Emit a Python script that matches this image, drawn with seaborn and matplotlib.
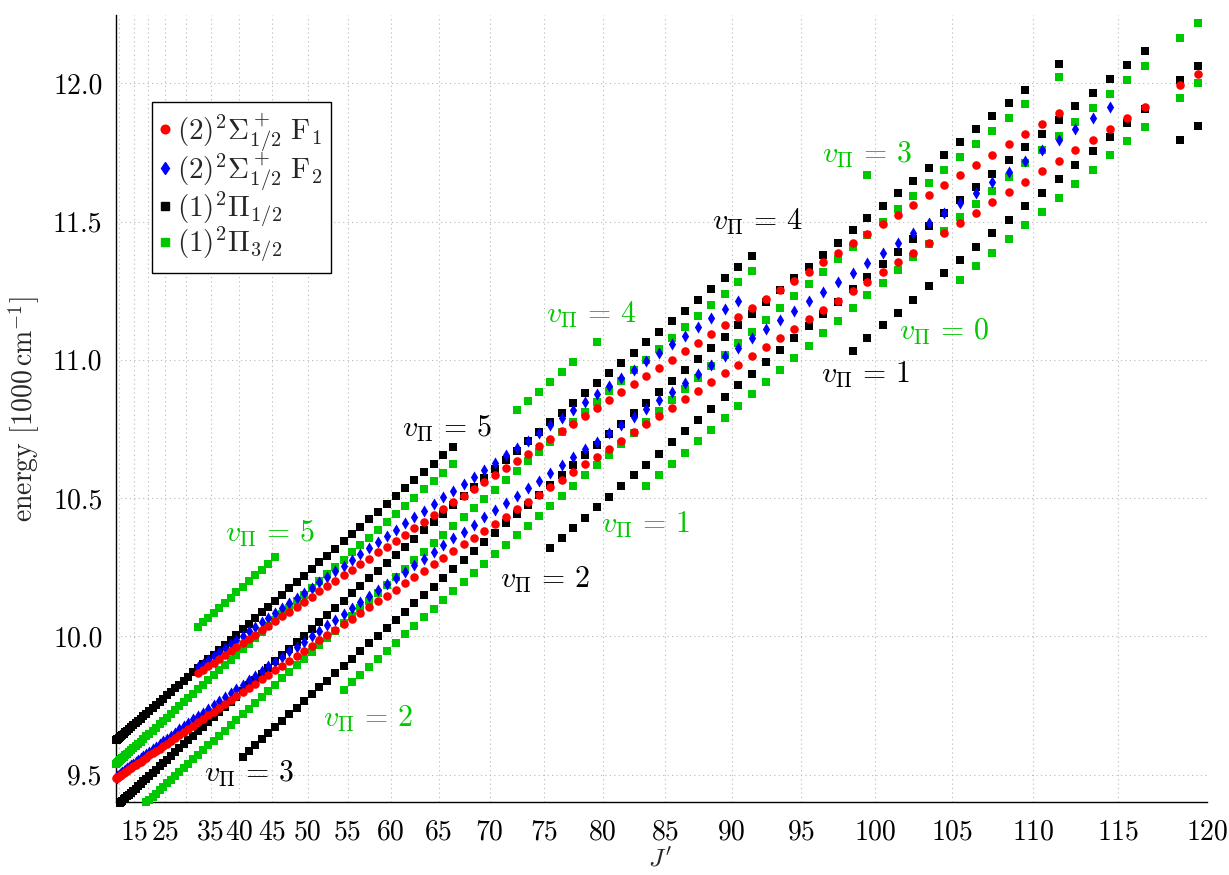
import numpy as np
import matplotlib
matplotlib.use("Agg")
import matplotlib.pyplot as plt
from matplotlib.lines import Line2D
import seaborn as sns
import pandas as pd

sns.set_theme(style="white")
plt.rcParams.update({
    "font.family": "serif",
    "font.serif": ["cmr10"],
    "mathtext.fontset": "cm",
    "axes.formatter.use_mathtext": True,
    "axes.unicode_minus": False,
})

# ---------------- data (energies in cm^-1) ----------------
# each band: first J' value, then term energies for J', J'+1, ... (None = level not shown)
pi12_v5_J0 = 0.5
pi12_v5_E = [9624, 9625, 9626, 9628, 9630, 9633, 9636, 9639, 9643, 9648, 9653, 9659, 9665, 9671, 9678, 9685,
             9693, 9702, 9711, 9720, 9730, 9740, 9751, 9762, 9774, 9786, 9799, 9812, 9825, 9839, 9854, 9869,
             9885, 9901, 9917, 9934, 9951, 9969, 9987, 10006, 10025, 10045, 10065, 10086, 10107, 10129, 10151,
             10173, 10196, 10219, 10243, 10268, 10292, 10317, 10343, 10369, 10396, 10423, 10450, 10478, 10507,
             10535, 10565, 10594, 10624, 10655, 10686]
pi12_v4_J0 = 6.5
pi12_v4_E = [9397, 9401, 9405, 9410, 9415, 9421, 9427, 9434, 9441, 9449, 9457, 9466, 9475, 9485, 9495, 9506,
             9517, 9529, 9541, 9554, 9567, 9581, 9595, 9610, 9625, 9640, 9656, 9673, 9690, 9708, 9726, 9744,
             9763, 9782, 9802, 9823, 9843, 9865, 9886, 9909, 9931, 9954, 9978, 10002, 10026, 10051, 10076,
             10102, 10128, 10155, 10182, 10209, 10237, 10266, 10294, 10323, 10353, 10383, 10413, 10444, 10475,
             10507, 10539, 10571, 10604, 10637, 10671, 10705, 10739, 10774, 10809, 10844, 10880, 10916, 10952,
             10989, 11026, 11064, 11102, 11140, 11178, 11217, 11256, 11296, 11336, 11376]
pi12_v3_J0 = 40.5
pi12_v3_E = [9565, 9586, 9607, 9628, 9650, 9672, 9694, 9718, 9741, 9765, 9790, 9815, 9840, 9866, 9892, 9919,
             9946, 9974, 10002, 10031, 10060, 10089, 10119, 10149, 10180, 10211, 10243, 10275, 10308, 10340,
             10374, 10408, 10442, 10476, 10511, 10547, 10582, 10619, 10655, 10692, 10730, 10767, 10806, 10844,
             10883, 10923, 10962, 11002, 11043, 11084, 11125, 11167, 11209, 11251, 11294, 11337, 11380, 11424,
             11468, 11512, 11557, 11602, 11648, 11693, 11739, 11786, 11833, 11880, 11927, 11975, None, 12071]
pi12_v2_J0 = 75.5
pi12_v2_E = [10319, 10355, 10392, 10429, 10467, 10505, 10543, 10582, 10621, 10661, 10701, 10741, 10782, 10823,
             10865, 10907, 10949, 10992, 11035, 11078, 11122, 11166, 11210, 11255, 11300, 11346, 11391, 11438,
             11484, 11531, 11578, 11625, 11673, 11721, 11770, 11818, 11867, 11917, 11966, 12016, 12066, 12117]
pi12_v1_J0 = 98.5
pi12_v1_E = [11032, 11078, 11125, 11171, 11218, 11266, 11313, 11361, 11409, 11458, 11507, 11556, 11605, 11655,
             11705, 11755, 11806, 11857, 11908, None, 12011, 12062]
pi12_v0_J0 = 118.5
pi12_v0_E = [11795, 11846]

pi32_v5_J0 = 32.5
pi32_v5_E = [10034, 10050, 10067, 10085, 10102, 10121, 10140, 10159, 10179, 10199, 10220, 10241, 10263, 10285]
pi32_v4_J0 = 0.5
pi32_v4_E = [9539, 9540, 9541, 9543, 9545, 9548, 9551, 9555, 9559, 9564, 9569, 9575, 9581, 9588, 9595, 9602,
             9611, 9619, 9628, 9638, 9648, 9659, 9670, 9682, 9694, 9706, 9719, 9733, 9747, 9762, 9777, 9792,
             9808, 9824, 9841, 9859, 9877, 9895, 9914, 9933, 9953, 9973, 9994, 10015, 10036, 10058, 10081,
             10104, 10127, 10151, 10175, 10200, 10225, 10251, 10277, 10303, 10330, 10357, 10385, 10413, 10442,
             10471, 10501, 10531, 10561, 10592, 10623, None, None, None, None, None, 10819, 10852, 10885, 10921,
             10956, 10991, None, 11066]
pi32_v3_J0 = 19.5
pi32_v3_E = [9399, 9409, 9420, 9431, 9443, 9455, 9468, 9481, 9495, 9509, 9524, 9539, 9555, 9571, 9588, 9605,
             9623, 9641, 9659, 9678, 9698, 9718, 9738, 9759, 9781, 9803, 9825, 9848, 9871, 9895, 9919, 9944,
             9969, 9994, 10020, 10047, 10074, 10101, 10129, 10157, 10186, 10215, 10245, 10275, 10305, 10336,
             10367, 10399, 10431, 10464, 10497, 10530, 10564, 10598, 10633, 10668, 10703, 10739, 10775, 10812,
             10849, 10886, 10924, 10962, 11000, 11039, 11078, 11118, 11158, 11198, 11239, 11280, 11321,
             None, None, None, None, None, None, None, 11668]
pi32_v2_J0 = 54.5
pi32_v2_E = [9807, 9834, 9861, 9890, 9918, 9947, 9977, 10007, 10037, 10068, 10099, 10131, 10163, 10195, 10228,
             10262, 10296, 10330, 10365, 10400, 10435, 10471, 10508, 10544, 10582, 10619, 10657, 10696, 10735,
             10774, 10813, 10853, 10894, 10935, 10976, 11017, 11059, 11102, 11144, 11187, 11231, 11275, 11319,
             11363, 11408, 11453, 11499, 11545, 11591, 11638, 11685, 11732, 11779, 11827, 11876, 11924, None,
             12022]
pi32_v1_J0 = 83.5
pi32_v1_E = [10542, 10582, 10623, 10664, 10705, 10747, 10790, 10832, 10875, 10919, 10963, 11007, 11051, 11096,
             11141, 11187, 11233, 11279, 11325, 11372, 11420, 11467, 11515, 11563, 11612, 11661, 11710, 11759,
             11809, 11859, 11909, 11960, 12011, 12062, None, 12165, 12217]
pi32_v0_J0 = 105.5
pi32_v0_E = [11289, 11338, 11387, 11436, 11486, 11536, 11586, 11637, 11688, 11739, 11791, 11843, None, 11947,
             12000]

sig_a_F1_J0 = 0.5
sig_a_F1_E = [9487, 9488, 9489, 9490, 9492, 9494, 9496, 9499, 9502, 9506, 9510, 9514, 9519, 9524, 9529, 9535,
              9541, 9547, 9554, 9561, 9569, 9577, 9585, 9594, 9603, 9612, 9622, 9632, 9643, 9654, 9665, 9677,
              9689, 9701, 9714, 9727, 9740, 9754, 9768, 9783, 9797, 9813, 9828, 9844, 9861, 9877, 9894, 9912,
              9929, 9947, 9966, 9985, 10004, 10023, 10043, 10063, 10084, 10105, 10126, 10147, 10169, 10192,
              10214, 10237, 10260, 10284, 10308, 10332, 10357, 10382, 10407, 10433, 10459, 10485, 10512, 10539,
              10566, 10594, 10622, 10650, 10679, 10708, 10737, 10766, 10796, 10827, 10857, 10888, 10919, 10951,
              10982, 11014, 11047, 11080, 11113, 11146, 11180, 11213, 11248, 11282, 11317, 11352, 11388, 11423,
              11459, 11496, 11532, 11569, 11606, 11644, 11682, 11720, 11758, 11796, 11835, 11874, 11914, None,
              11993, 12034]
sig_a_F2_J0 = 0.5
sig_a_F2_E = [9488, 9489, 9491, 9493, 9495, 9498, 9501, 9504, 9508, 9513, 9517, 9522, 9528, 9533, 9539, 9546,
              9553, 9559, 9567, 9575, 9583, 9592, 9601, 9610, 9620, 9630, 9640, 9651, 9663, 9674, 9686, 9699,
              9711, 9724, 9738, 9751, 9765, 9780, 9795, 9810, 9825, 9842, 9857, 9874, 9892, 9908, 9926, 9945,
              9962, 9981, 10001, 10020, 10040, 10060, 10080, 10101, 10123, 10144, 10166, 10188, 10211, 10234,
              10257, 10281, 10304, 10329, 10354, 10378, 10404, 10430, 10455, 10482, 10509, 10535, 10563, 10591,
              10618, 10647, 10676, 10704, 10734, 10764, 10793, 10823, 10854, 10885, 10916, 10948, 10980, 11012,
              11044, 11077, 11110, 11144, 11178, 11211, 11246, 11280, 11315, 11350, 11386, 11421, 11458, 11494,
              11530, 11568, 11605, 11642, 11680, 11719, 11757, 11796, 11835, 11874, 11913]
sig_b_F1_J0 = 32.5
sig_b_F1_E = [9867, 9879, 9892, 9905, 9918, 9932, 9946, 9961, 9975, 9991, 10006, 10022, 10038, 10055, 10072,
              10089, 10107, 10125, 10143, 10162, 10181, 10200, 10220, 10240, 10261, 10281, 10303, 10324, 10346,
              10368, 10391, 10413, 10437, 10460, 10484, 10508, 10533, 10558, 10583, 10609, 10634, 10661, 10687,
              10714, 10741, 10769, 10797, 10825, 10853, 10882, 10911, 10941, 10971, 11001, 11031, 11062, 11093,
              11125, 11156, 11188, 11221, 11253, 11286, 11319, 11353, 11387, 11421, 11455, 11490, 11525, 11560,
              11596, 11632, 11668, 11705, 11741, 11779, 11816, 11854, 11891]
sig_b_F2_J0 = 32.5
sig_b_F2_E = [9888, 9901, 9914, 9928, 9942, 9956, 9971, 9986, 10001, 10018, 10034, 10050, 10067, 10084, 10102,
              10120, 10138, 10157, 10176, 10195, 10215, 10235, 10255, 10276, 10297, 10318, 10341, 10362, 10385,
              10408, 10431, 10454, 10479, 10502, 10527, 10552, 10577, 10603, 10628, 10655, 10681, 10708, 10735,
              10763, 10790, 10819, 10848, 10876, 10905, 10935, 10964, 10995, 11025, 11056, 11087, 11118, 11150,
              11183, 11214]

bands = [
    ("P12", pi12_v5_J0, pi12_v5_E), ("P12", pi12_v4_J0, pi12_v4_E), ("P12", pi12_v3_J0, pi12_v3_E),
    ("P12", pi12_v2_J0, pi12_v2_E), ("P12", pi12_v1_J0, pi12_v1_E), ("P12", pi12_v0_J0, pi12_v0_E),
    ("P32", pi32_v5_J0, pi32_v5_E), ("P32", pi32_v4_J0, pi32_v4_E), ("P32", pi32_v3_J0, pi32_v3_E),
    ("P32", pi32_v2_J0, pi32_v2_E), ("P32", pi32_v1_J0, pi32_v1_E), ("P32", pi32_v0_J0, pi32_v0_E),
    ("F1", sig_a_F1_J0, sig_a_F1_E), ("F2", sig_a_F2_J0, sig_a_F2_E),
    ("F1", sig_b_F1_J0, sig_b_F1_E), ("F2", sig_b_F2_J0, sig_b_F2_E),
]
rows = []
for state, j0, elist in bands:
    for k, e in enumerate(elist):
        if e is not None:
            rows.append((state, j0 + k, e / 1000.0))
df = pd.DataFrame(rows, columns=["state", "J", "E"])

# label positions (J', energy) and vibrational quantum numbers
vib_labels = [
    (41.5, 9.475, "3", "P12"), (57.4, 9.673, "2", "P32"), (44.8, 10.343, "5", "P32"),
    (65.9, 10.722, "5", "P12"), (75.05, 10.175, "2", "P12"), (83.4, 10.375, "1", "P32"),
    (79.0, 11.132, "4", "P32"), (91.9, 11.470, "4", "P12"), (99.5, 11.712, "3", "P32"),
    (104.5, 11.072, "0", "P32"), (99.4, 10.915, "1", "P12"),
]

# ---------------- figure ----------------
GREEN = "#00c800"
COLORS = {"P12": "black", "P32": GREEN, "F1": "red", "F2": "blue"}
fig = plt.figure(figsize=(12.29, 8.75), dpi=100)
ax = fig.add_axes([116.3 / 1229, (875 - 802.3) / 875, (1207 - 116.3) / 1229, (802.3 - 15) / 875])

styles = {
    "P12": dict(marker="s", s=34, z=3),
    "P32": dict(marker="s", s=34, z=4),
    "F2": dict(marker="d", s=38, z=5),
    "F1": dict(marker="o", s=38, z=6),
}
for st, sty in styles.items():
    sub = df[df.state == st]
    sns.scatterplot(data=sub, x="J", y="E", marker=sty["marker"], color=COLORS[st],
                    s=sty["s"], linewidth=0, ax=ax, clip_on=False, zorder=sty["z"], legend=False)

fwd = lambda j: np.where(j >= 0, j * (j + 1.0), j)
inv = lambda x: np.where(x >= 0, (-1 + np.sqrt(1 + 4 * np.abs(x))) / 2, x)
ax.set_xscale("function", functions=(fwd, inv))
ax.set_xlim(0, 120)
ax.set_ylim(9.3995, 12.247)

xt = [5, 15, 20, 25, 30, 35, 40, 45, 50, 55, 60, 65, 70, 75, 80, 85, 90, 95, 100, 105, 110, 115, 120]
ax.set_xticks(xt)
ax.set_xticklabels(["" if t in (5, 20, 30) else str(t) for t in xt])
ax.xaxis.set_minor_locator(matplotlib.ticker.NullLocator())
yt = [9.5, 10.0, 10.5, 11.0, 11.5, 12.0]
ax.set_yticks(yt)
ax.set_yticklabels([f"{t:.1f}" for t in yt])
ax.set_yticks(np.arange(9.4, 12.25, 0.1), minor=True)

for s in ["top", "right"]:
    ax.spines[s].set_visible(False)
for s in ["left", "bottom"]:
    ax.spines[s].set_color("black")
    ax.spines[s].set_linewidth(1.0)
ax.tick_params(axis="both", which="major", direction="inout", length=8, width=0.7, color="#888888",
               labelsize=20, labelcolor="black")
ax.tick_params(axis="x", which="major", pad=8)
ax.tick_params(axis="y", which="major", pad=6)
ax.tick_params(axis="y", which="minor", direction="inout", length=5, width=0.6, color="#888888")
ax.grid(True, which="major", linestyle=(0, (1, 3)), color="#b8b8b8", linewidth=0.8)
ax.set_axisbelow(True)

ax.set_xlabel(r"$J'$", fontsize=18.5)
ax.xaxis.set_label_coords(0.4985, -0.0575)
ax.set_ylabel(r"energy $[1000\,\mathrm{cm}^{-1}]$", fontsize=20, labelpad=8)

for j, e, v, st in vib_labels:
    ax.text(j, e, r"$v_\Pi\,=\,%s$" % v, color=COLORS[st], fontsize=21.5, ha="center", va="baseline")

handles = [
    Line2D([], [], ls="", marker="o", color="red", markersize=6.2),
    Line2D([], [], ls="", marker="d", color="blue", markersize=6.2),
    Line2D([], [], ls="", marker="s", color="black", markersize=5.8),
    Line2D([], [], ls="", marker="s", color=GREEN, markersize=5.8),
]
names = [r"$(2)^2\Sigma^+_{1/2}\ \mathrm{F}_1$", r"$(2)^2\Sigma^+_{1/2}\ \mathrm{F}_2$",
         r"$(1)^2\Pi_{1/2}$", r"$(1)^2\Pi_{3/2}$"]
leg = ax.legend(handles, names, loc="upper left", bbox_to_anchor=(0.0327, 0.8895), borderaxespad=0,
                fontsize=21, frameon=True, fancybox=False, edgecolor="black", framealpha=1,
                handlelength=0.3, handletextpad=0.25, borderpad=0.3, labelspacing=-0.12)
leg.get_frame().set_linewidth(1.0)

fig.savefig("out.png", dpi=100)
